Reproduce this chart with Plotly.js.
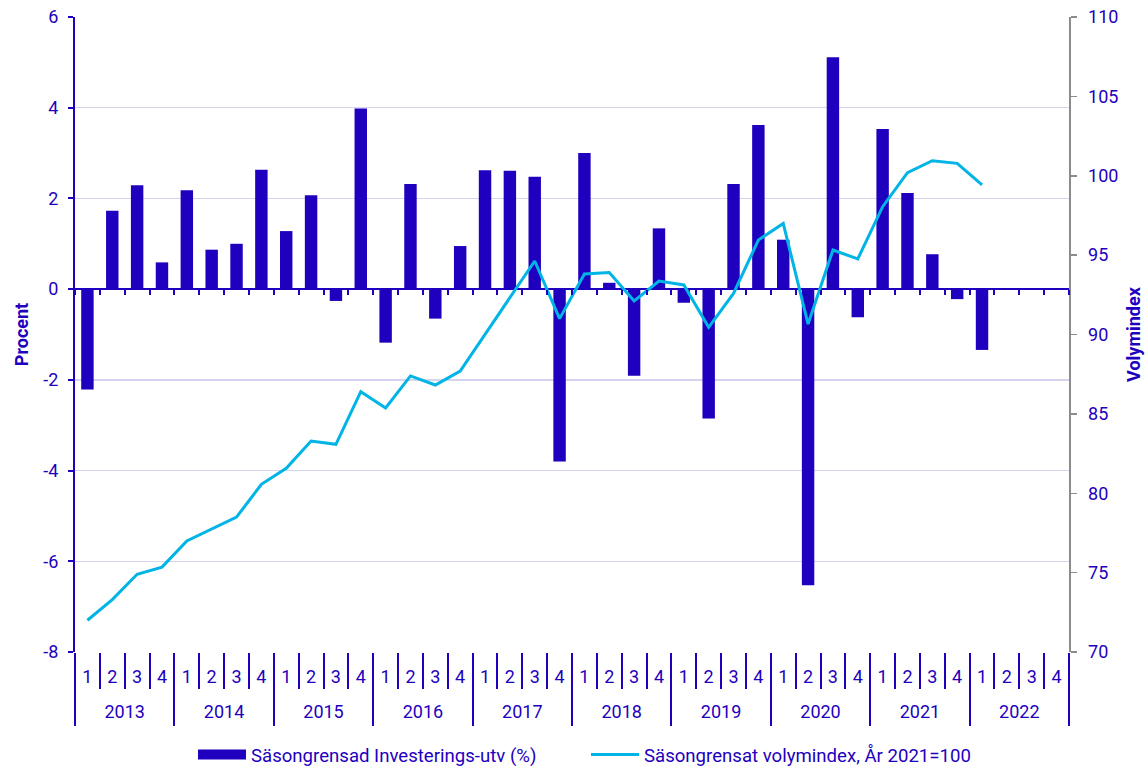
<!DOCTYPE html>
<html><head><meta charset="utf-8">
<script src="https://cdn.plot.ly/plotly-3.0.1.min.js"></script>
<style>html,body{margin:0;padding:0;background:#fff}#chart{width:1148px;height:766px}</style>
</head><body><div id="chart"></div>
<script>
const years = ['2013','2014','2015','2016','2017','2018','2019','2020','2021','2022'];
const quarters = ['1','2','3','4'];
const investeringsUtv = [
  -2.21, 1.73, 2.29, 0.59,
  2.18, 0.87, 1.00, 2.63,
  1.28, 2.07, -0.26, 3.98,
  -1.18, 2.32, -0.65, 0.95,
  2.62, 2.61, 2.48, -3.80,
  3.00, 0.14, -1.91, 1.34,
  -0.30, -2.85, 2.32, 3.62,
  1.09, -6.53, 5.11, -0.62,
  3.53, 2.12, 0.77, -0.22,
  -1.34, null, null, null
];
const volymindex = [
  72.0, 73.3, 74.9, 75.35,
  77.0, 77.75, 78.5, 80.56,
  81.57, 83.29, 83.08, 86.4,
  85.37, 87.39, 86.82, 87.7,
  90.0, 92.3, 94.63, 91.0,
  93.81, 93.9, 92.11, 93.37,
  93.12, 90.45, 92.59, 95.95,
  97.0, 90.66, 95.32, 94.76,
  98.05, 100.19, 100.95, 100.78,
  99.42, null, null, null
];
const leftTicks = [-8, -6, -4, -2, 0, 2, 4, 6];
const barName = 'Säsongrensad Investerings-utv (%)';
const lineName = 'Säsongrensat volymindex, År 2021=100';

// category helpers built from the arrays above
const flat = [], quarterText = [], idx = [];
years.forEach(y => quarters.forEach(q => { flat.push(y + ' K' + q); quarterText.push(q); idx.push(idx.length); }));
const empty = flat.map(() => null);
const qBounds = flat.map((_, i) => i - 0.5).concat([flat.length - 0.5]);
const yCenters = years.map((_, i) => i * quarters.length + (quarters.length - 1) / 2);
const yBounds = years.map((_, i) => i * quarters.length - 0.5).concat([flat.length - 0.5]);
const xr = [-0.5, flat.length - 0.5];

const C = '#1e00be';
const LINE = '#00b4e6';
const GRID = '#d4d4ef';
const FONT = 'Roboto, "Open Sans", sans-serif';

const traces = [
  { type: 'bar', name: barName, x: flat, y: investeringsUtv,
    marker: { color: C }, yaxis: 'y', showlegend: false, hoverinfo: 'y' },
  { type: 'scatter', mode: 'lines', name: barName, x: flat, y: empty,
    line: { color: C, width: 11 }, yaxis: 'y', hoverinfo: 'skip' },
  { type: 'scatter', mode: 'lines', name: lineName, x: flat, y: volymindex,
    line: { color: LINE, width: 3 }, yaxis: 'y2', hoverinfo: 'y' },
  { type: 'scatter', mode: 'markers', x: idx, y: empty, xaxis: 'x2', yaxis: 'y',
    showlegend: false, hoverinfo: 'skip' },
  { type: 'scatter', mode: 'markers', x: idx, y: empty, xaxis: 'x3', yaxis: 'y',
    showlegend: false, hoverinfo: 'skip' },
  { type: 'scatter', mode: 'markers', x: idx, y: empty, xaxis: 'x4', yaxis: 'y',
    showlegend: false, hoverinfo: 'skip' }
];

const layout = {
  width: 1148, height: 766,
  margin: { l: 75, r: 79, t: 17, b: 114 },
  paper_bgcolor: '#fff', plot_bgcolor: '#fff',
  font: { family: FONT, size: 18, color: C },
  bargap: 0.5,
  showlegend: true,
  legend: { orientation: 'h', xref: 'container', x: 0.1681, xanchor: 'left',
    yref: 'container', y: 0.0144, yanchor: 'middle',
    font: { size: 18.6, color: C }, itemwidth: 48, traceorder: 'normal',
    entrywidth: 330, entrywidthmode: 'pixels' },
  xaxis: {
    type: 'category', categoryorder: 'array', categoryarray: flat, range: xr,
    ticks: '', showticklabels: false, showgrid: false, showline: false, zeroline: false
  },
  xaxis2: {
    type: 'linear', overlaying: 'x', anchor: 'free', position: 8 / 14, range: xr,
    tickmode: 'array', tickvals: qBounds,
    ticks: 'outside', ticklen: 5, tickwidth: 2, tickcolor: C,
    showticklabels: false, showgrid: false, showline: false, zeroline: false
  },
  xaxis3: {
    type: 'linear', overlaying: 'x', anchor: 'free', position: 0, range: xr,
    tickmode: 'array', tickvals: idx, ticktext: quarterText, ticks: '',
    ticklabelstandoff: 12, tickfont: { size: 18, color: C },
    minor: { tickmode: 'array', tickvals: qBounds, ticks: 'outside', ticklen: 36, tickwidth: 2, tickcolor: C, showgrid: false },
    showgrid: false, showline: false, zeroline: false
  },
  xaxis4: {
    type: 'linear', overlaying: 'x', anchor: 'free', position: 0, range: xr,
    tickmode: 'array', tickvals: yCenters, ticktext: years, ticks: '',
    ticklabelstandoff: 47, tickfont: { size: 18, color: C },
    minor: { tickmode: 'array', tickvals: yBounds, ticks: 'outside', ticklen: 73, tickwidth: 2, tickcolor: C, showgrid: false },
    showgrid: false, showline: false, zeroline: false
  },
  yaxis: {
    range: [-8, 6], tickmode: 'array', tickvals: leftTicks, ticktext: leftTicks.map(String),
    showgrid: true, gridcolor: GRID, gridwidth: 1.5,
    zeroline: true, zerolinecolor: C, zerolinewidth: 2,
    showline: true, linecolor: C, linewidth: 2,
    ticks: 'outside', ticklen: 5, tickwidth: 2, tickcolor: C, ticklabelstandoff: 6,
    tickfont: { size: 18, color: C },
    title: { text: 'Procent', font: { size: 18, color: C, weight: 'bold' }, standoff: 10 }
  },
  yaxis2: {
    overlaying: 'y', side: 'right', range: [70, 110], dtick: 5,
    showgrid: false, zeroline: false,
    showline: true, linecolor: '#8c8c8c', linewidth: 1.5,
    ticks: 'outside', ticklen: 6, tickwidth: 1.5, tickcolor: '#8c8c8c', ticklabelstandoff: 8,
    tickfont: { size: 18, color: C },
    title: { text: 'Volymindex', font: { size: 18, color: C, weight: 'bold' }, standoff: 10 }
  }
};

Plotly.newPlot('chart', traces, layout, { displayModeBar: false, staticPlot: true });
</script>
</body></html>
